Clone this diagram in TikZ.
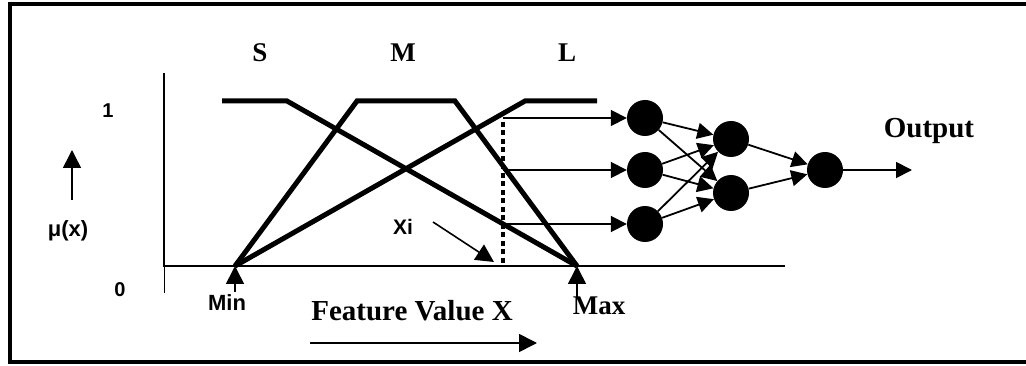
\documentclass[tikz,border=0pt]{standalone}
\usepackage{fontspec}
\setmainfont{Liberation Serif}
\setsansfont{Liberation Sans}
\usetikzlibrary{arrows.meta}
\tikzset{
  frameline/.style={line width=3.5pt},
  axisline/.style={line width=2.5pt},
  mf/.style={line width=5pt, line join=miter},
  arr/.style={line width=1.8pt, -{Triangle[length=16pt,width=16pt]}},
  bigarr/.style={line width=1.6pt, -{Triangle[length=18pt,width=18pt]}},
  neuron/.style={circle, fill=black, minimum size=36pt, inner sep=0pt},
  lab/.style={anchor=base, inner sep=0pt},
}
\begin{document}
\begin{tikzpicture}[x=1pt,y=-1pt]
\useasboundingbox (0,0) rectangle (1026,366);
% frame
\draw[frameline] (1026,4) -- (10,4) -- (10,362) -- (1026,362);
% axes
\coordinate (vtop) at (164,73);
\coordinate (orig) at (164,266);
\coordinate (vbot) at (164,293);
\coordinate (xend) at (785,266);
\draw[axisline] (vtop) -- (orig) -- (xend);
\draw[line width=1pt] (orig) -- (vbot);
% membership functions
\coordinate (min) at (235,266);
\coordinate (max) at (577,266);
\draw[mf] (222,101) -- (287,101) -- (max);
\draw[mf] (min) -- (357,101) -- (455,101) -- (max);
\draw[mf] (min) -- (525,101) -- (597,101);
% dashed xi line
\coordinate (dtop) at (503,122);
\coordinate (dbot) at (503,266);
\draw[line width=4pt, dash pattern=on 5pt off 3.5pt] (dtop) -- (dbot);
% labels
\node[lab, font=\fontsize{27}{30}\selectfont\bfseries] (S) at (260,62) {S};
\node[lab, font=\fontsize{27}{30}\selectfont\bfseries] (M) at (403,62) {M};
\node[lab, font=\fontsize{27}{30}\selectfont\bfseries] (L) at (567,62) {L};
\node[lab, font=\fontsize{20}{24}\selectfont\sffamily\bfseries] (one) at (108,118) {1};
\node[lab, font=\fontsize{20}{24}\selectfont\sffamily\bfseries] (zero) at (120,297) {0};
\node[lab, font=\fontsize{22}{26}\selectfont\sffamily\bfseries] (mu) at (68,237) {μ(x)};
\node[lab, font=\fontsize{21}{24}\selectfont\sffamily\bfseries] (xi) at (403,235) {Xi};
\node[lab, font=\fontsize{22}{26}\selectfont\sffamily\bfseries] (minl) at (227,310) {Min};
\node[lab, font=\fontsize{27}{30}\selectfont\bfseries] (maxl) at (599,315) {Max};
\node[lab, font=\fontsize{29}{32}\selectfont\bfseries] (feat) at (412,320) {Feature Value X};
\node[lab, font=\fontsize{29}{32}\selectfont\bfseries] (outl) at (929,138) {Output};
% mu arrow
\coordinate (mub) at (72,200);
\coordinate (mut) at (72,150);
\draw[bigarr] (mub) -- (mut);
% min / max arrows
\coordinate (minb) at (235,292);
\coordinate (maxb) at (577,298);
\draw[bigarr] (minb) -- (min);
\draw[bigarr] (maxb) -- (max);
% xi arrow
\coordinate (xis) at (433,222);
\coordinate (xit) at (494,262);
\draw[bigarr] (xis) -- (xit);
% feature arrow
\coordinate (fs) at (310,343);
\coordinate (fe) at (537,343);
\draw[bigarr] (fs) -- (fe);
% network
\node[neuron] (a1) at (645,118) {};
\node[neuron] (a2) at (645,170) {};
\node[neuron] (a3) at (645,224) {};
\node[neuron] (b1) at (731,139) {};
\node[neuron] (b2) at (731,193) {};
\node[neuron] (o) at (825,170) {};
\coordinate (d1) at (503,118);
\coordinate (d2) at (503,170);
\coordinate (d3) at (503,224);
\draw[arr] (d1) -- (a1);
\draw[arr] (d2) -- (a2);
\draw[arr] (d3) -- (a3);
\foreach \s in {a1,a2,a3}{
  \draw[arr] (\s) -- (b1);
  \draw[arr] (\s) -- (b2);
}
\draw[arr] (b1) -- (o);
\draw[arr] (b2) -- (o);
\coordinate (oe) at (912,170);
\draw[arr] (o) -- (oe);
\end{tikzpicture}
\end{document}
